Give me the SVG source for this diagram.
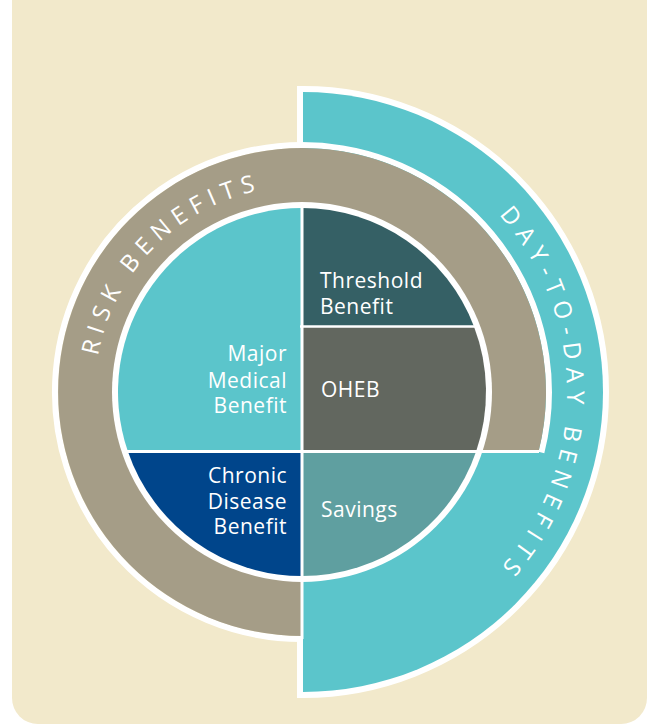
<svg xmlns="http://www.w3.org/2000/svg" width="653" height="725" viewBox="0 0 653 725">
<style>
.lbl{font-family:"Open Sans","Liberation Sans",sans-serif;font-size:21px;fill:#ffffff;letter-spacing:0.5px}
.arc{font-family:"Open Sans","Liberation Sans",sans-serif;font-size:24px;font-weight:400;fill:#ffffff}
.div{stroke:#ffffff;fill:none}
</style>
<defs>
<path id="riskArc" d="M98.1,356.1 A206,206 0 0 1 284.0,186.8"/>
<path id="dayArc" d="M498.9,214.7 A265,265 0 0 1 472.3,595.0"/>
</defs>
<rect id="background" x="12" y="-30" width="635" height="754" rx="26" fill="#F2E9CB"/>
<g id="day-to-day-benefits">
<path d="M303,92 A300,300 0 0 1 303,692 Z" fill="#5BC5CB" stroke="#ffffff" stroke-width="12" paint-order="stroke"/>
<text class="arc" letter-spacing="7.4"><textPath href="#dayArc">DAY-TO-DAY BENEFITS</textPath></text>
</g>
<g id="risk-benefits">
<path d="M541.4,452.6 A247,247 0 1 0 302,639" class="div" stroke-width="6"/>
<path d="M302,148 A244,244 0 0 0 302,636 L302,452 L538.5,452 A244,244 0 0 0 302,148 Z" fill="#A59D87"/>
<text class="arc" letter-spacing="6.7"><textPath href="#riskArc">RISK BENEFITS</textPath></text>
</g>
<circle id="inner-ring" cx="302" cy="392" r="190" fill="#ffffff"/>
<g id="major-medical-benefit">
<path d="M302,208 A184,184 0 0 0 127.89,451.5 L302,451.5 Z" fill="#5BC5CB"/>
<text class="lbl" text-anchor="end"><tspan x="287" y="361">Major</tspan><tspan x="287" y="387.5">Medical</tspan><tspan x="287" y="413">Benefit</tspan></text>
</g>
<g id="chronic-disease-benefit">
<path d="M127.89,451.5 A184,184 0 0 0 302,576 L302,451.5 Z" fill="#00458B"/>
<text class="lbl" text-anchor="end"><tspan x="287" y="483">Chronic</tspan><tspan x="287" y="508.5">Disease</tspan><tspan x="287" y="534">Benefit</tspan></text>
</g>
<g id="threshold-benefit">
<path d="M302,208 A184,184 0 0 1 473.95,326.5 L302,326.5 Z" fill="#356065"/>
<text class="lbl"><tspan x="320" y="288">Threshold</tspan><tspan x="320" y="314">Benefit</tspan></text>
</g>
<g id="oheb">
<path d="M302,326.5 L473.95,326.5 A184,184 0 0 1 476.11,451.5 L302,451.5 Z" fill="#62675F"/>
<text class="lbl" x="321" y="397">OHEB</text>
</g>
<g id="savings">
<path d="M302,451.5 L476.11,451.5 A184,184 0 0 1 302,576 Z" fill="#5F9FA0"/>
<text class="lbl" x="321" y="516.5">Savings</text>
</g>
<g id="connectors">
<line class="div" x1="302" y1="205" x2="302" y2="639" stroke-width="3"/>
<line class="div" x1="300" y1="326.5" x2="478" y2="326.5" stroke-width="2.5"/>
<line class="div" x1="122" y1="451.5" x2="539" y2="451.5" stroke-width="3"/>
</g>
</svg>
